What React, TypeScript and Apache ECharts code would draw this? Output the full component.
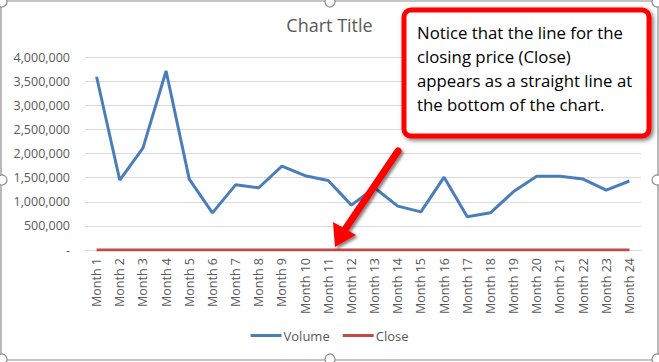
import React, { useEffect, useRef } from "react";
import * as echarts from "echarts";

const categories = [
  "Month 1", "Month 2", "Month 3", "Month 4", "Month 5", "Month 6",
  "Month 7", "Month 8", "Month 9", "Month 10", "Month 11", "Month 12",
  "Month 13", "Month 14", "Month 15", "Month 16", "Month 17", "Month 18",
  "Month 19", "Month 20", "Month 21", "Month 22", "Month 23", "Month 24",
];

const volume = [
  3590000, 1450000, 2110000, 3710000, 1470000, 770000,
  1350000, 1290000, 1740000, 1540000, 1440000, 930000,
  1290000, 910000, 790000, 1510000, 690000, 770000,
  1210000, 1530000, 1530000, 1470000, 1240000, 1430000,
];

const close = [
  32.5, 34.1, 30.2, 29.8, 31.4, 30.9,
  31.7, 32.2, 33.0, 32.8, 33.5, 33.1,
  34.0, 33.6, 33.2, 34.4, 33.9, 34.2,
  34.8, 35.1, 35.3, 35.0, 35.6, 35.9,
];

const yTicks = { min: 0, max: 4000000, interval: 500000 };

const chartTitle = "Chart Title";
const calloutText =
  "Notice that the line for the\nclosing price (Close)\nappears as a straight line at\nthe bottom of the chart.";

export default function App() {
  const ref = useRef<HTMLDivElement>(null);

  useEffect(() => {
    if (!ref.current) return;
    const chart = echarts.init(ref.current, null, { renderer: "svg" });
    const font = "'Open Sans', 'Noto Sans', sans-serif";
    const handle = (x: number, y: number) => ({
      type: "circle",
      shape: { cx: x, cy: y, r: 5 },
      style: { fill: "#ffffff", stroke: "#8c8c8c", lineWidth: 1.2 },
      z: 100,
    });
    chart.setOption({
      animation: false,
      backgroundColor: "#ffffff",
      textStyle: { fontFamily: font },
      title: {
        text: chartTitle,
        left: "center",
        top: 11,
        textStyle: {
          color: "#595959",
          fontSize: 18,
          fontWeight: "normal",
          fontFamily: font,
        },
      },
      legend: {
        bottom: 15,
        left: "center",
        itemWidth: 31,
        itemHeight: 3,
        itemGap: 13,
        icon: "rect",
        textStyle: { color: "#595959", fontSize: 13, fontFamily: font, padding: [0, 0, 0, -3] },
        data: ["Volume", "Close"],
      },
      grid: { left: 85, right: 18, top: 57, bottom: 112 },
      xAxis: {
        type: "category",
        data: categories,
        boundaryGap: true,
        axisLine: { show: true, lineStyle: { color: "#D9D9D9" } },
        axisTick: { show: false },
        axisLabel: {
          rotate: 90,
          margin: 8,
          color: "#595959",
          fontSize: 12.5,
          fontFamily: font,
          interval: 0,
        },
      },
      yAxis: {
        type: "value",
        min: yTicks.min,
        max: yTicks.max,
        interval: yTicks.interval,
        axisLine: { show: false },
        axisTick: { show: false },
        splitLine: { lineStyle: { color: "#D9D9D9", width: 1 } },
        axisLabel: {
          margin: 15,
          color: "#595959",
          fontSize: 12.5,
          fontFamily: font,
          formatter: (v: number) => (v === 0 ? "-" : v.toLocaleString("en-US")),
        },
      },
      series: [
        {
          name: "Volume",
          type: "line",
          data: volume,
          symbol: "none",
          lineStyle: { color: "#4A7EBB", width: 3 },
          itemStyle: { color: "#4A7EBB" },
        },
        {
          name: "Close",
          type: "line",
          data: close,
          symbol: "none",
          lineStyle: { color: "#BE4B48", width: 3 },
          itemStyle: { color: "#BE4B48" },
        },
      ],
      graphic: [
        {
          type: "rect",
          shape: { x: 1, y: 1, width: 657, height: 359, r: 4 },
          style: { fill: "none", stroke: "#8c8c8c", lineWidth: 1.2 },
          z: 90,
          silent: true,
        },
        handle(2, 2),
        handle(330, 2),
        handle(657, 2),
        handle(2, 180),
        handle(657, 180),
        handle(2, 359),
        handle(330, 359),
        handle(657, 359),
        {
          type: "line",
          shape: { x1: 398, y1: 151, x2: 346, y2: 228 },
          style: {
            stroke: "#ff0000",
            lineWidth: 7,
            lineCap: "round",
            shadowBlur: 3,
            shadowColor: "rgba(0,0,0,0.5)",
            shadowOffsetX: 2,
            shadowOffsetY: 2,
          },
          z: 110,
        },
        {
          type: "polygon",
          shape: { points: [[335, 247], [333, 222], [356, 235]] },
          style: {
            fill: "#ff0000",
            shadowBlur: 3,
            shadowColor: "rgba(0,0,0,0.5)",
            shadowOffsetX: 2,
            shadowOffsetY: 2,
          },
          z: 110,
        },
        {
          type: "rect",
          shape: { x: 404, y: 10, width: 245, height: 126, r: 7 },
          style: {
            fill: "#ffffff",
            stroke: "#ff0000",
            lineWidth: 5,
            shadowBlur: 4,
            shadowColor: "rgba(0,0,0,0.55)",
            shadowOffsetX: 2,
            shadowOffsetY: 2,
          },
          z: 110,
        },
        {
          type: "text",
          x: 417,
          y: 20,
          style: {
            text: calloutText,
            fill: "#000000",
            fontSize: 16.8,
            lineHeight: 24,
            fontFamily: font,
          },
          z: 111,
        },
      ],
    });
    return () => chart.dispose();
  }, []);

  return (
    <div
      ref={ref}
      style={{ position: "absolute", left: 0, top: 0, width: 659, height: 362 }}
    />
  );
}
